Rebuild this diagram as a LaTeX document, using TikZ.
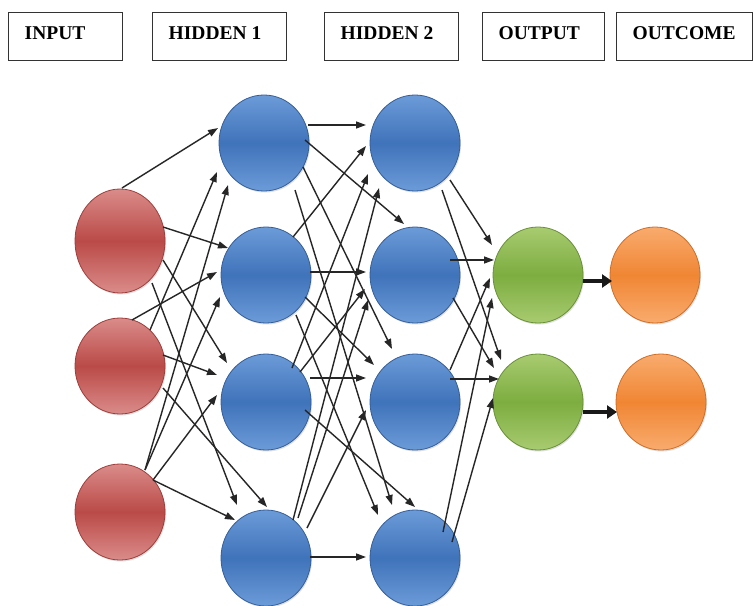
\documentclass[tikz,border=0pt]{standalone}
\usepackage{fontspec}
\setmainfont{Liberation Serif}
\usetikzlibrary{arrows.meta,shapes.geometric,shadows}
\definecolor{rmid}{HTML}{BA4A47}\definecolor{rlt}{HTML}{DA8C8A}\definecolor{rdk}{HTML}{9E3E3B}
\definecolor{bmid}{HTML}{3F73BA}\definecolor{blt}{HTML}{6C9BD8}\definecolor{bdk}{HTML}{355F99}
\definecolor{gmid}{HTML}{7DAD40}\definecolor{glt}{HTML}{A8CB70}\definecolor{gdk}{HTML}{6A9038}
\definecolor{omid}{HTML}{F08634}\definecolor{olt}{HTML}{F9AB6E}\definecolor{odk}{HTML}{D06E26}
\begin{document}
\begin{tikzpicture}[x=1pt,y=-1pt,
  hdr/.style={draw=black!80,line width=1.4pt,rectangle,anchor=north west,minimum height=48pt,
    inner xsep=16pt,inner ysep=2pt,text height=14pt,text depth=8pt,align=flush left,
    font=\fontsize{19.5}{22}\selectfont\bfseries},
  neuron/.style={ellipse,minimum width=90pt,minimum height=96pt,inner sep=0pt,line width=0.8pt,
    drop shadow={shadow xshift=1pt,shadow yshift=-1.5pt,opacity=0.25}},
  inneur/.style={neuron,draw=rdk,top color=rlt,bottom color=rlt,middle color=rmid},
  hidneur/.style={neuron,draw=bdk,top color=blt,bottom color=blt,middle color=bmid},
  outneur/.style={neuron,draw=gdk,top color=glt,bottom color=glt,middle color=gmid},
  resneur/.style={neuron,draw=odk,top color=olt,bottom color=olt,middle color=omid},
  edge/.style={draw=black!85,line width=1.4pt,-{Triangle[length=10pt,width=7pt]}},
  thick edge/.style={draw=black!90,line width=4pt,-{Triangle[length=10pt,width=13pt]}}
]
\useasboundingbox (0,0) rectangle (754,605);
\fill[white] (0,0) rectangle (754,605);

% headers
\node[hdr,minimum width=114pt,text width=82pt] (hin) at (8,12) {INPUT};
\node[hdr,minimum width=134pt,text width=102pt] (hh1) at (152,12) {HIDDEN 1};
\node[hdr,minimum width=134pt,text width=102pt] (hh2) at (324,12) {HIDDEN 2};
\node[hdr,minimum width=122pt,text width=90pt] (hout) at (482,12) {OUTPUT};
\node[hdr,minimum width=136pt,text width=104pt] (hres) at (616,12) {OUTCOME};

% neurons
\node[inneur,minimum height=104pt] (r1) at (120,241) {};
\node[inneur] (r2) at (120,366) {};
\node[inneur] (r3) at (120,512) {};
\node[hidneur] (a1) at (264,143) {};
\node[hidneur] (a2) at (266,275) {};
\node[hidneur] (a3) at (266,402) {};
\node[hidneur] (a4) at (266,558) {};
\node[hidneur] (b1) at (415,143) {};
\node[hidneur] (b2) at (415,275) {};
\node[hidneur] (b3) at (415,402) {};
\node[hidneur] (b4) at (415,558) {};
\node[outneur] (g1) at (538,275) {};
\node[outneur] (g2) at (538,402) {};
\node[resneur] (o1) at (655,275) {};
\node[resneur] (o2) at (661,402) {};

% connections
\foreach \s/\sx/\sy/\t/\tx/\ty in {
  r1/2/-53/a1/-46/-15, r1/43/-14/a2/-38/-27, r1/43/19/a3/-39/-39, r1/32/42/a4/-29/-53,
  r2/30/-36/a1/-47/29, r2/12/-46/a2/-49/-3, r2/43/-11/a3/-49/-27, r2/43/22/a4/1/-51,
  r3/25/-42/a1/-36/42, r3/25/-42/a2/-46/22, r3/33/-32/a3/-49/-7, r3/33/-32/a4/-31/-38,
  a1/44/-18/b1/-49/-18, a1/41/-3/b2/-11/-51, a1/39/24/b3/-23/-53, a1/31/47/b4/-23/-53,
  a2/27/-38/b1/-49/3, a2/44/-3/b2/-49/-3, a2/39/22/b3/-41/-37, a2/30/40/b4/-37/-43,
  a3/26/-34/b1/-47/31, a3/34/-30/b2/-50/14, a3/44/-24/b3/-49/-24, a3/39/8/b4/0/-51,
  a4/27/-38/b1/-36/45, a4/32/-40/b2/-47/25, a4/41/-30/b3/-49/8, a4/44/-1/b4/-49/-1,
  b1/35/37/g1/-46/-30, b1/27/47/g2/-37/-42, b2/35/-15/g1/-44/-15, b2/38/23/g2/-44/-34,
  b3/35/-32/g1/-48/3, b3/35/-23/g2/-39/-23, b4/28/-26/g1/-46/23, b4/37/-16/g2/-45/-4}
  \draw[edge] ([shift={(\sx,\sy)}]\s.center) -- ([shift={(\tx,\ty)}]\t.center);

\draw[thick edge] ([shift={(45,6)}]g1.center) -- ([shift={(-43,6)}]o1.center);
\draw[thick edge] ([shift={(45,10)}]g2.center) -- ([shift={(-44,10)}]o2.center);
\end{tikzpicture}
\end{document}
